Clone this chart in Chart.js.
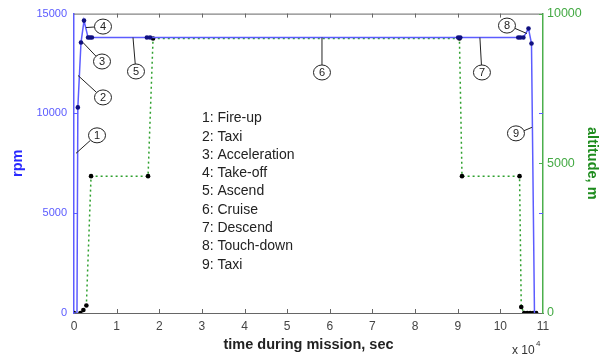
<!DOCTYPE html>
<html>
<head>
<meta charset="utf-8">
<script src="https://cdn.jsdelivr.net/npm/chart.js@4.4.1/dist/chart.umd.min.js"></script>
<style>
html,body{margin:0;padding:0;background:#fff;}
#wrap{width:608px;height:355px;position:relative;}
</style>
</head>
<body>
<div id="wrap"><canvas id="c" width="608" height="355"></canvas></div>
<script>
// ---- data (time in sec) ----
const rpmTime  = [0, 700, 900, 1640, 2350, 3300, 3750, 4200, 17100, 17840, 90100, 90600, 104200, 104700, 105400, 106600, 107300, 108000];
const rpmValue = [0, 0, 10300, 13550, 14650, 13800, 13800, 13800, 13800, 13800, 13800, 13800, 13800, 13800, 13800, 14250, 13500, 0];
const altTime  = [0, 1500, 2200, 2900, 4000, 17370, 18540, 90400, 91000, 104500, 104900, 105600, 106300, 107000, 107700, 108400];
const altValue = [0, 0, 100, 250, 4570, 4570, 9170, 9170, 4570, 4570, 200, 0, 0, 0, 0, 0];
const xTicks   = [0, 10000, 20000, 30000, 40000, 50000, 60000, 70000, 80000, 90000, 100000, 110000];
const rpmTicks = [0, 5000, 10000, 15000];
const altTicks = [0, 5000, 10000];
const phases   = ['1: Fire-up','2: Taxi','3: Acceleration','4: Take-off','5: Ascend','6: Cruise','7: Descend','8: Touch-down','9: Taxi'];
// annotation callouts: label, circle centre (t, rpm), leader target (t, rpm)
const callouts = [
  ['1', 5400, 8900, 470, 8000],
  ['2', 6800, 10800, 940, 11900],
  ['3', 6570, 12600, 2110, 13550],
  ['4', 6800, 14350, 2800, 14300],
  ['5', 14540, 12100, 13840, 13800],
  ['6', 58160, 12050, 58160, 13800],
  ['7', 95680, 12050, 95200, 13800],
  ['8', 101550, 14400, 106240, 14000],
  ['9', 103660, 9000, 107400, 9300]
];

const FONT = '"Liberation Sans", Arial, sans-serif';
const BLUE_LINE = '#5c5cff';
const BLUE_TXT = '#5a5aff';
const GREEN_AX = '#4caf4c';

const decor = {
  id: 'decor',
  afterDatasetsDraw(chart) {
    const {ctx, chartArea: a, scales} = chart;
    const x = scales.x, y = scales.y, y2 = scales.y2;
    ctx.save();
    // top frame line
    ctx.strokeStyle = '#666'; ctx.lineWidth = 1;
    ctx.beginPath(); ctx.moveTo(a.left, a.top + 0.5); ctx.lineTo(a.right, a.top + 0.5); ctx.stroke();
    // x ticks inward (bottom & top)
    xTicks.forEach(v => {
      const px = Math.round(x.getPixelForValue(v)) + 0.5;
      if (v === 0 || v === 110000) return;
      ctx.beginPath();
      ctx.moveTo(px, a.bottom); ctx.lineTo(px, a.bottom - 4);
      ctx.moveTo(px, a.top); ctx.lineTo(px, a.top + 4);
      ctx.stroke();
    });
    // rpm ticks
    ctx.strokeStyle = BLUE_LINE;
    rpmTicks.forEach(v => {
      if (v === 0 || v === 15000) return;
      const py = Math.round(y.getPixelForValue(v)) + 0.5;
      ctx.beginPath();
      ctx.moveTo(a.left, py); ctx.lineTo(a.left + 4, py);
      ctx.moveTo(a.right, py); ctx.lineTo(a.right - 4, py);
      ctx.stroke();
    });
    // altitude ticks
    ctx.strokeStyle = GREEN_AX;
    altTicks.forEach(v => {
      if (v === 0) return;
      const py = Math.round(y2.getPixelForValue(v)) + 0.5;
      ctx.beginPath();
      ctx.moveTo(a.right, py); ctx.lineTo(a.right - 4, py);
      ctx.stroke();
    });
    // callouts
    ctx.strokeStyle = '#222'; ctx.fillStyle = '#222'; ctx.lineWidth = 1;
    ctx.font = '11px ' + FONT; ctx.textAlign = 'center'; ctx.textBaseline = 'middle';
    const rx = 8.5, ry = 7.5;
    callouts.forEach(([lab, ct, cr, tt, tr]) => {
      const cx = x.getPixelForValue(ct), cy = y.getPixelForValue(cr);
      const tx = x.getPixelForValue(tt), ty = y.getPixelForValue(tr);
      const ang = Math.atan2(ty - cy, tx - cx);
      const sx = cx + rx * Math.cos(ang), sy = cy + ry * Math.sin(ang);
      ctx.beginPath(); ctx.moveTo(sx, sy); ctx.lineTo(tx, ty); ctx.stroke();
      ctx.beginPath(); ctx.ellipse(cx, cy, rx, ry, 0, 0, Math.PI * 2);
      ctx.fillStyle = '#fff'; ctx.fill(); ctx.stroke();
      ctx.fillStyle = '#222'; ctx.fillText(lab, cx, cy + 0.5);
    });
    // phase list
    ctx.font = '14px ' + FONT; ctx.textAlign = 'left'; ctx.fillStyle = '#222';
    const lx = x.getPixelForValue(30000), ly = y.getPixelForValue(9750);
    phases.forEach((p, i) => ctx.fillText(p, lx, ly + i * 18.3));
    // x 10^4
    ctx.font = '12px ' + FONT; ctx.fillStyle = '#333'; ctx.textBaseline = 'alphabetic';
    ctx.fillText('x 10', a.right - 31, 354);
    ctx.font = '8px ' + FONT;
    ctx.fillText('4', a.right - 7, 346);
    ctx.restore();
  }
};

const pts = (ts, vs) => ts.map((t, i) => ({x: t, y: vs[i]}));

new Chart(document.getElementById('c'), {
  type: 'scatter',
  data: {
    datasets: [
      {
        label: 'altitude',
        data: pts(altTime, altValue),
        yAxisID: 'y2',
        showLine: true,
        borderColor: '#2ea02e',
        borderWidth: 1.5,
        borderDash: [2, 3],
        pointRadius: 2.3,
        pointBackgroundColor: '#000',
        pointBorderColor: '#000',
        pointBorderWidth: 0,
        order: 2
      },
      {
        label: 'rpm',
        data: pts(rpmTime, rpmValue),
        yAxisID: 'y',
        showLine: true,
        borderColor: BLUE_LINE,
        borderWidth: 1.5,
        pointRadius: ctx => (ctx.dataIndex < 2 || ctx.dataIndex === rpmTime.length - 1) ? 0 : 2.3,
        pointBackgroundColor: '#101080',
        pointBorderColor: '#101080',
        pointBorderWidth: 0,
        order: 1
      }
    ]
  },
  options: {
    responsive: false,
    animation: false,
    devicePixelRatio: 1,
    layout: {padding: {top: 13, left: 0, right: 0, bottom: 0}},
    plugins: {legend: {display: false}, tooltip: {enabled: false}},
    scales: {
      x: {
        type: 'linear', min: 0, max: 110000,
        afterBuildTicks: s => { s.ticks = xTicks.map(v => ({value: v})); },
        ticks: {callback: v => String(v / 10000), font: {size: 12, family: FONT}, color: '#444', padding: 6, maxRotation: 0, autoSkip: false},
        grid: {display: false, drawTicks: false},
        border: {color: '#666', width: 1},
        title: {display: true, text: 'time during mission, sec', font: {size: 14.5, weight: 'bold', family: FONT}, color: '#222', padding: {top: 0, bottom: 1}},
        afterFit: s => { s.height = 42; }
      },
      y: {
        type: 'linear', position: 'left', min: 0, max: 15000,
        afterBuildTicks: s => { s.ticks = rpmTicks.map(v => ({value: v})); },
        ticks: {font: {size: 11, family: FONT}, color: BLUE_TXT, padding: 7, callback: v => String(v)},
        grid: {display: false, drawTicks: false},
        border: {color: BLUE_LINE, width: 1.5},
        title: {display: true, text: 'rpm', font: {size: 14.5, weight: 'bold', family: FONT}, color: '#2a2aff', padding: {top: 9, bottom: 0}},
        afterFit: s => { s.width = 74; }
      },
      y2: {
        type: 'linear', position: 'right', min: 0, max: 10000,
        afterBuildTicks: s => { s.ticks = altTicks.map(v => ({value: v})); },
        ticks: {font: {size: 12.5, family: FONT}, color: '#44aa44', padding: 4, callback: v => String(v)},
        grid: {display: false, drawTicks: false},
        border: {color: GREEN_AX, width: 1.5},
        title: {display: true, text: 'altitude, m', font: {size: 14.5, weight: 'bold', family: FONT}, color: '#1e8c1e', padding: {top: 7, bottom: 0}},
        afterFit: s => { s.width = 65; }
      }
    }
  },
  plugins: [decor]
});
</script>
</body>
</html>
